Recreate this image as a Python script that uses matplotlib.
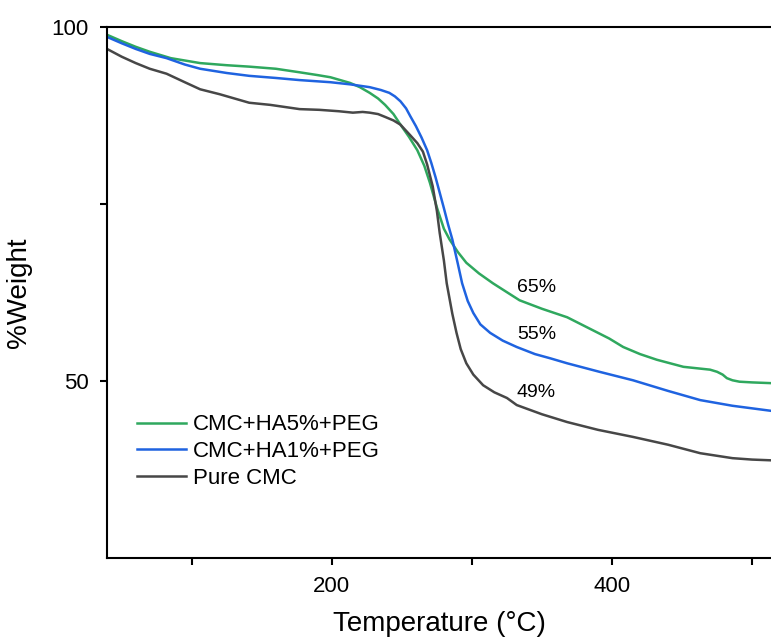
import matplotlib
matplotlib.use("Agg")
import matplotlib.pyplot as plt
import numpy as np

plt.rcParams['font.family'] = ['Liberation Sans', 'DejaVu Sans']

# TGA curves
t_ha5 = [39.5, 50, 60, 70, 85, 106, 125, 141, 160, 177, 190, 199, 206, 213, 220, 227, 233,
         238, 244, 249, 255, 261, 266, 270, 275, 280, 284, 290, 296, 305, 315, 334, 350,
         368, 386, 398, 408, 420, 432, 451, 470, 475, 479, 482, 486, 491, 500, 513]
w_ha5 = [98.9, 98.0, 97.2, 96.5, 95.6, 94.9, 94.6, 94.4, 94.1, 93.6, 93.2, 92.9, 92.5, 92.1,
         91.5, 90.7, 89.9, 89.0, 87.7, 86.2, 84.5, 82.6, 80.4, 78.0, 74.5, 71.5, 70.0, 68.2,
         66.7, 65.2, 63.8, 61.4, 60.2, 59.0, 57.2, 56.0, 54.8, 53.8, 53.0, 52.0, 51.6, 51.3,
         50.9, 50.4, 50.1, 49.9, 49.8, 49.7]

t_ha1 = [39.5, 50, 60, 70, 82, 95, 106, 125, 141, 160, 177, 199, 213, 227, 235, 241, 245,
         249, 253, 256, 260, 264, 268, 271, 274, 277, 280, 283, 286, 290, 293, 297, 301, 306,
         313, 322, 332, 345, 356, 368, 391, 415, 440, 463, 486, 513]
w_ha1 = [98.6, 97.7, 96.9, 96.2, 95.6, 94.7, 94.1, 93.5, 93.1, 92.8, 92.5, 92.2, 91.9, 91.5,
         91.1, 90.7, 90.2, 89.5, 88.5, 87.4, 86.0, 84.4, 82.6, 80.8, 78.8, 76.6, 74.4, 72.1,
         70.0, 66.5, 63.8, 61.3, 59.6, 58.0, 56.8, 55.7, 54.8, 53.8, 53.2, 52.5, 51.3, 50.1,
         48.6, 47.3, 46.5, 45.8]

t_cmc = [39.5, 50, 60, 70, 82, 95, 106, 120, 141, 156, 177, 191, 205, 215, 222, 227, 233,
         238, 244, 249, 256, 261, 265, 268, 272, 275, 277, 280, 282, 286, 289, 292, 296,
         301, 308, 316, 325, 332, 350, 368, 390, 415, 440, 463, 486, 500, 513]
w_cmc = [96.9, 95.8, 94.9, 94.1, 93.4, 92.2, 91.2, 90.5, 89.3, 89.0, 88.4, 88.3, 88.1, 87.9,
         88.0, 87.9, 87.7, 87.3, 86.8, 86.2, 84.7, 83.6, 82.4, 80.6, 77.5, 74.0, 70.9, 67.0,
         63.8, 59.5, 56.8, 54.5, 52.5, 50.9, 49.4, 48.4, 47.6, 46.6, 45.3, 44.2, 43.1, 42.1,
         41.0, 39.8, 39.1, 38.9, 38.8]

labels = ["CMC+HA5%+PEG", "CMC+HA1%+PEG", "Pure CMC"]
colors = ["#2fa85e", "#1f63e0", "#474747"]

residues = ["65%", "55%", "49%"]
residue_y = [63.2, 56.6, 48.4]

fig = plt.figure(figsize=(7.71, 6.38), dpi=100)
ax = fig.add_axes([0.1388, 0.1254, 0.8612, 0.8323])

for t, w, lab, c in zip([t_ha5, t_ha1, t_cmc], [w_ha5, w_ha1, w_cmc], labels, colors):
    ax.plot(t, w, color=c, linewidth=1.8, label=lab, solid_joinstyle='round')

for txt, yv in zip(residues, residue_y):
    ax.text(346, yv, txt, fontsize=14, ha='center', va='center')

ax.set_xlim(39.5, 513.5)
ax.set_ylim(25, 100)
ax.set_xticks([200, 400])
ax.set_xticks([100, 300, 500], minor=True)
ax.set_yticks([50, 100])
ax.set_yticks([75], minor=True)
ax.tick_params(which='major', direction='out', length=5, width=1.5, labelsize=16, pad=8)
ax.tick_params(which='minor', direction='out', length=5, width=1.5)

for s in ['left', 'bottom', 'top']:
    ax.spines[s].set_linewidth(1.5)
ax.spines['right'].set_visible(False)

ax.set_xlabel("Temperature (°C)", fontsize=20, labelpad=10)
ax.set_ylabel("%Weight", fontsize=20, labelpad=14)

ax.legend(loc='lower left', bbox_to_anchor=(0.032, 0.114), frameon=False, fontsize=16,
          handlelength=2.2, handletextpad=0.3, labelspacing=0.25, borderaxespad=0)

fig.savefig("out.png", dpi=100)
